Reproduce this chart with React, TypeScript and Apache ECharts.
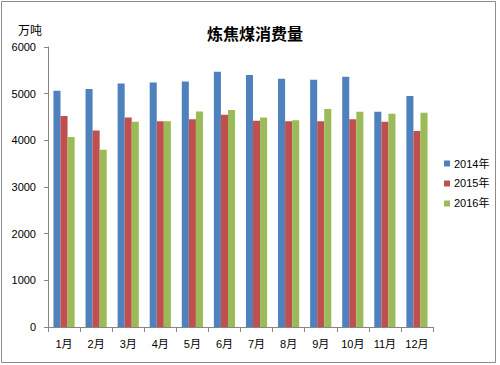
import React, { useEffect, useRef } from "react";
import * as echarts from "echarts";

const months = ["1月", "2月", "3月", "4月", "5月", "6月", "7月", "8月", "9月", "10月", "11月", "12月"];
const seriesNames = ["2014年", "2015年", "2016年"];
const v2014 = [5060, 5100, 5220, 5240, 5260, 5470, 5400, 5320, 5300, 5360, 4610, 4950];
const v2015 = [4520, 4210, 4490, 4410, 4450, 4550, 4420, 4410, 4410, 4450, 4400, 4200];
const v2016 = [4070, 3800, 4400, 4410, 4620, 4650, 4490, 4430, 4670, 4610, 4570, 4590];
const colors = ["#4F81BD", "#C0504D", "#9BBB59"];

const FONT = "'Liberation Sans', 'Noto Sans CJK SC', sans-serif";

export default function App() {
  const ref = useRef<HTMLDivElement>(null);
  useEffect(() => {
    if (!ref.current) return;
    const chart = echarts.init(ref.current, undefined, { renderer: "svg" });
    const data = [v2014, v2015, v2016];
    chart.setOption({
      animation: false,
      backgroundColor: "#ffffff",
      color: colors,
      textStyle: { fontFamily: FONT },
      title: {
        text: "炼焦煤消费量",
        left: 250,
        top: 20,
        textAlign: "center",
        textStyle: { fontSize: 16, fontWeight: "bold", color: "#000", fontFamily: "'Noto Sans CJK SC', sans-serif" },
      },
      graphic: [
        {
          type: "rect",
          shape: { x: 1.5, y: 1.5, width: 494, height: 361 },
          style: { fill: "none", stroke: "#8c8c8c", lineWidth: 1 },
          silent: true,
        },
        {
          type: "text",
          left: 18,
          top: 23,
          style: { text: "万吨", fontSize: 12, fill: "#000", fontFamily: "'Noto Sans CJK SC', sans-serif" },
        },
      ],
      legend: {
        orient: "vertical",
        left: 439,
        top: 153,
        itemWidth: 6,
        itemHeight: 6,
        itemGap: 9,
        icon: "rect",
        textStyle: { fontSize: 11, color: "#000", padding: [0, 0, 0, -1] },
        data: seriesNames,
      },
      grid: { left: 48, right: 67, top: 47, bottom: 38 },
      xAxis: {
        type: "category",
        data: months,
        axisLine: { lineStyle: { color: "#868686" } },
        axisTick: { show: true, length: 5, lineStyle: { color: "#868686" } },
        axisLabel: { fontSize: 11, color: "#000", margin: 11 },
      },
      yAxis: {
        type: "value",
        min: 0,
        max: 6000,
        interval: 1000,
        axisLine: { show: true, lineStyle: { color: "#868686" } },
        axisTick: { show: true, length: 4, lineStyle: { color: "#868686" } },
        splitLine: { show: false },
        axisLabel: { fontSize: 11, color: "#000", margin: 12, formatter: (v: number) => String(v) },
      },
      series: seriesNames.map((name, i) => ({
        name,
        type: "bar",
        data: data[i],
        barGap: "0%",
        barCategoryGap: "34%",
        itemStyle: { color: colors[i] },
      })),
    });
    return () => chart.dispose();
  }, []);
  return <div ref={ref} style={{ width: 500, height: 365, position: "absolute", left: 0, top: 0 }} />;
}
